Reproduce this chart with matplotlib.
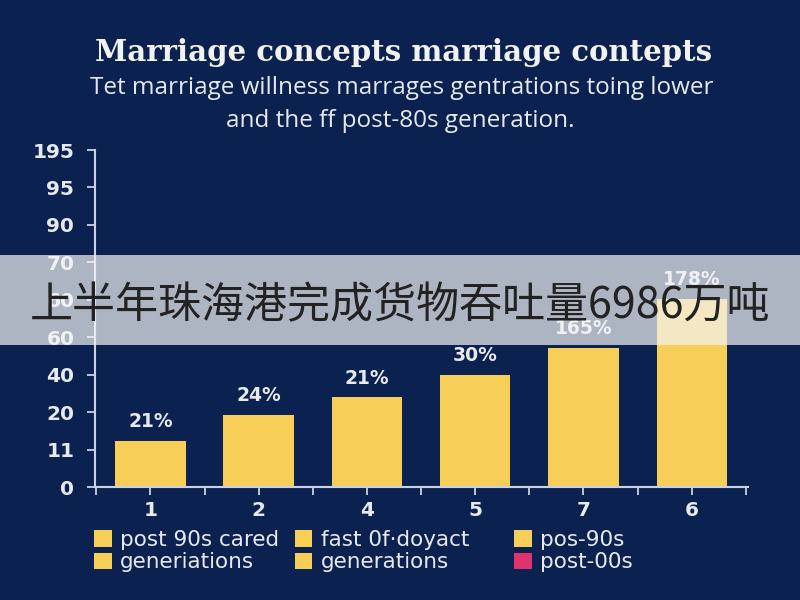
import matplotlib.pyplot as plt
from matplotlib.patches import Patch, Rectangle

# chart data
categories = ['1', '2', '4', '5', '7', '6']
values = [1.23, 1.93, 2.4, 3.0, 3.72, 5.03]   # heights in tick-step units
bar_labels = ['21%', '24%', '21%', '30%', '165%', '178%']
ytick_labels = ['0', '11', '20', '40', '60', '60', '70', '90', '95', '195']
legend_labels = [['post 90s cared', 'generiations'],
                 ['fast 0f·doyact', 'generations'],
                 ['pos-90s', 'post-00s']]
legend_colors = [['#f7ce57', '#f7ce57'],
                 ['#f7ce57', '#f7ce57'],
                 ['#f7ce57', '#e0336e']]

BG = '#0b2250'
FG = '#e6eaf0'
BAR = '#f7ce57'

fig = plt.figure(figsize=(8, 6), dpi=100, facecolor=BG)
ax = fig.add_axes([0.119, 0.188, 0.816, 0.562], facecolor=BG)

x = list(range(len(categories)))
bars = ax.bar(x, values, width=0.65, color=BAR, zorder=2)
for b, lab in zip(bars, bar_labels):
    ax.annotate(lab, (b.get_x() + b.get_width() / 2, b.get_height()),
                xytext=(0, 7), textcoords='offset points', ha='center', va='bottom',
                color=FG, fontsize=13.5, fontweight='bold', family='DejaVu Sans')

ax.set_xlim(-0.51, 5.52)
ax.set_ylim(0, 9)
ax.set_xticks(x)
ax.set_xticklabels(categories)
ax.set_xticks([i + 0.5 for i in range(-1, 6)], minor=True)
ax.set_yticks(range(len(ytick_labels)))
ax.set_yticklabels(ytick_labels)

for s in ['top', 'right']:
    ax.spines[s].set_visible(False)
for s in ['left', 'bottom']:
    ax.spines[s].set_color('#c8d2e4')
    ax.spines[s].set_linewidth(1.5)
ax.tick_params(axis='both', colors='#c8d2e4', width=1.3, length=6, labelcolor=FG)
ax.tick_params(axis='x', which='minor', colors='#c8d2e4', width=1.3, length=6)
ax.tick_params(axis='x', pad=4)
ax.tick_params(axis='y', pad=9)
for t in ax.get_xticklabels() + ax.get_yticklabels():
    t.set_fontsize(14.5)
    t.set_fontweight('bold')

# title and subtitle
fig.text(0.504, 0.913, 'Marriage concepts marriage contepts', ha='center', va='center',
         color='#f2f2f2', fontsize=21, fontweight='bold', family='DejaVu Serif')
fig.text(0.502, 0.853, 'Tet marriage willness marrages gentrations toing lower',
         ha='center', va='center', color=FG, fontsize=17.5, family='Open Sans')
fig.text(0.5, 0.798, 'and the ff post-80s generation.',
         ha='center', va='center', color=FG, fontsize=17.5, family='Open Sans')

# legend, one column at a time
col_x = [0.118, 0.369, 0.643]
for cx, labs, cols in zip(col_x, legend_labels, legend_colors):
    handles = [Patch(facecolor=c, edgecolor='none') for c in cols]
    leg = fig.legend(handles, labs, loc='upper left',
                     bbox_to_anchor=(cx, 0.117), frameon=False,
                     handlelength=0.8, handleheight=0.8, handletextpad=0.4,
                     labelspacing=0.12, borderaxespad=0, borderpad=0,
                     prop={'family': 'DejaVu Sans', 'size': 15.5})
    for t in leg.get_texts():
        t.set_color(FG)

# overlay band with caption
fig.patches.append(Rectangle((0, 0.425), 1, 0.15, transform=fig.transFigure,
                             facecolor='#f4f4f4', alpha=0.7, edgecolor='none', zorder=5))
fig.text(0.5, 0.489, '上半年珠海港完成货物吞吐量6986万吨', ha='center', va='center',
         color='#222222', fontsize=31, family=['Noto Sans CJK SC', 'DejaVu Sans'], zorder=6)

fig.savefig('out.png', dpi=100, facecolor=BG)
